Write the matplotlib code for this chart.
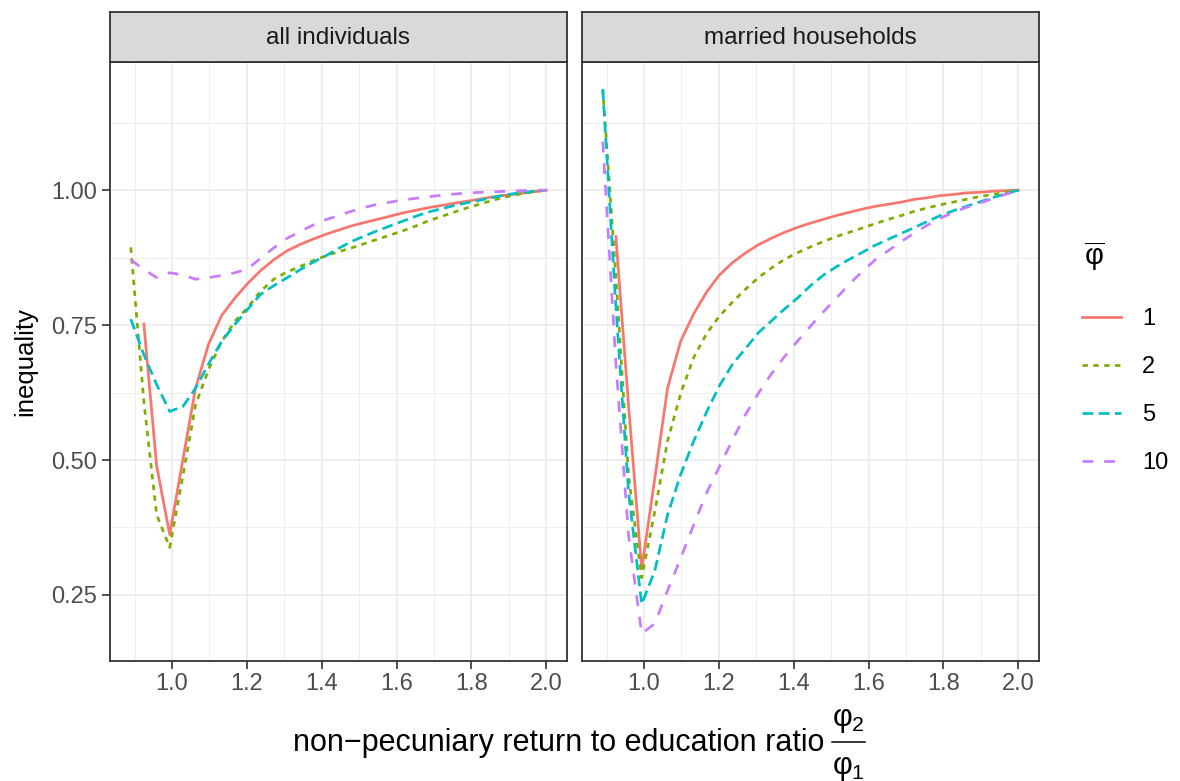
import matplotlib
matplotlib.use("Agg")
import matplotlib.pyplot as plt
from matplotlib.lines import Line2D
from matplotlib.ticker import FixedLocator

plt.rcParams['font.family'] = ['Liberation Sans', 'DejaVu Sans']
plt.rcParams['mathtext.fontset'] = 'custom'
plt.rcParams['mathtext.rm'] = 'Liberation Sans'
plt.rcParams['mathtext.it'] = 'Liberation Sans'
plt.rcParams['mathtext.bf'] = 'Liberation Sans:bold'

# phi2 / phi1 grid (red series starts one step later)
ratio = [0.890, 0.925, 0.959, 0.994, 1.029, 1.063, 1.098, 1.133, 1.168, 1.202,
         1.237, 1.272, 1.306, 1.341, 1.376, 1.410, 1.445, 1.480, 1.514, 1.549,
         1.584, 1.618, 1.653, 1.688, 1.723, 1.757, 1.792, 1.827, 1.861, 1.896,
         1.931, 1.965, 2.000]

panels = ['all individuals', 'married households']
phi_bar = ['1', '2', '5', '10']
x_ticks = [1.0, 1.2, 1.4, 1.6, 1.8, 2.0]
x_minor = [0.9, 1.1, 1.3, 1.5, 1.7, 1.9]
y_ticks = [0.25, 0.50, 0.75, 1.00]
y_minor = [0.125, 0.375, 0.625, 0.875, 1.125]

# all individuals
ind_1 = [None, 0.752, 0.490, 0.362, 0.500, 0.633, 0.715, 0.768, 0.800, 0.827,
         0.851, 0.871, 0.887, 0.899, 0.909, 0.918, 0.926, 0.934, 0.940, 0.946,
         0.952, 0.958, 0.963, 0.968, 0.972, 0.976, 0.980, 0.984, 0.988, 0.991,
         0.994, 0.997, 1.000]
ind_2 = [0.894, 0.608, 0.399, 0.338, 0.470, 0.602, 0.668, 0.720, 0.757, 0.782,
         0.813, 0.835, 0.848, 0.858, 0.869, 0.878, 0.886, 0.893, 0.901, 0.909,
         0.917, 0.925, 0.934, 0.944, 0.952, 0.960, 0.968, 0.975, 0.982, 0.988,
         0.993, 0.997, 1.000]
ind_5 = [0.761, 0.695, 0.640, 0.590, 0.599, 0.633, 0.678, 0.720, 0.751, 0.779,
         0.807, 0.823, 0.837, 0.852, 0.866, 0.878, 0.892, 0.905, 0.915, 0.925,
         0.934, 0.943, 0.952, 0.960, 0.966, 0.972, 0.977, 0.982, 0.987, 0.992,
         0.995, 0.998, 1.000]
ind_10 = [0.871, 0.853, 0.838, 0.847, 0.843, 0.835, 0.838, 0.842, 0.847, 0.854,
          0.874, 0.893, 0.910, 0.923, 0.935, 0.945, 0.953, 0.961, 0.968, 0.974,
          0.978, 0.982, 0.985, 0.988, 0.991, 0.993, 0.995, 0.996, 0.997, 0.998,
          0.999, 1.000, 1.000]

# married households
mar_1 = [None, 0.914, 0.600, 0.298, 0.466, 0.633, 0.720, 0.771, 0.812, 0.843,
         0.866, 0.884, 0.899, 0.911, 0.922, 0.931, 0.939, 0.946, 0.953, 0.959,
         0.965, 0.970, 0.974, 0.978, 0.983, 0.986, 0.990, 0.992, 0.995, 0.996,
         0.998, 0.999, 1.000]
mar_2 = [1.187, 0.840, 0.470, 0.282, 0.405, 0.535, 0.623, 0.690, 0.735, 0.767,
         0.793, 0.817, 0.838, 0.856, 0.872, 0.884, 0.895, 0.905, 0.914, 0.922,
         0.930, 0.938, 0.946, 0.953, 0.961, 0.967, 0.973, 0.978, 0.983, 0.988,
         0.992, 0.996, 1.000]
mar_5 = [1.187, 0.785, 0.440, 0.233, 0.295, 0.398, 0.473, 0.535, 0.590, 0.638,
         0.678, 0.707, 0.736, 0.758, 0.780, 0.800, 0.823, 0.843, 0.858, 0.872,
         0.885, 0.898, 0.909, 0.920, 0.931, 0.942, 0.953, 0.962, 0.970, 0.978,
         0.986, 0.993, 1.000]
mar_10 = [1.090, 0.680, 0.360, 0.178, 0.197, 0.258, 0.318, 0.380, 0.440, 0.488,
          0.538, 0.585, 0.624, 0.660, 0.692, 0.720, 0.748, 0.775, 0.800, 0.826,
          0.850, 0.871, 0.888, 0.905, 0.921, 0.935, 0.948, 0.959, 0.968, 0.976,
          0.984, 0.992, 1.000]

series = [[ind_1, ind_2, ind_5, ind_10], [mar_1, mar_2, mar_5, mar_10]]

colors = ['#F8766D', '#7CAE00', '#00BFC4', '#C77CFF']
styles = ['-', (0, (2, 2)), (0, (4, 2)), (0, (4, 4))]

fig = plt.figure(figsize=(11.8, 7.81), dpi=100)

W, H = 1180.0, 781.0
panel_left = [110, 582]
panel_w = 457
top, bottom = 62, 661
strip_top = 12

axes = []
for p, name in enumerate(panels):
    l = panel_left[p] / W
    ax = fig.add_axes([l, 1 - bottom / H, panel_w / W, (bottom - top) / H])
    axes.append(ax)
    for i, s in enumerate(series[p]):
        xs = [x for x, v in zip(ratio, s) if v is not None]
        ys = [v for v in s if v is not None]
        ax.plot(xs, ys, color=colors[i], linestyle=styles[i], linewidth=1.95,
                label=phi_bar[i], dash_capstyle='butt')
    ax.set_xlim(0.8345, 2.0555)
    ax.set_ylim(0.1276, 1.2375)
    ax.xaxis.set_major_locator(FixedLocator(x_ticks))
    ax.xaxis.set_minor_locator(FixedLocator(x_minor))
    ax.yaxis.set_major_locator(FixedLocator(y_ticks))
    ax.yaxis.set_minor_locator(FixedLocator(y_minor))
    ax.grid(True, which='major', color='#EBEBEB', linewidth=1.2)
    ax.grid(True, which='minor', color='#EBEBEB', linewidth=0.6)
    ax.set_axisbelow(True)
    for sp in ax.spines.values():
        sp.set_color('#333333')
        sp.set_linewidth(1.3)
    ax.tick_params(which='major', length=5.5, width=1.2, color='#333333',
                   labelsize=17, labelcolor='#4D4D4D', pad=3.5)
    ax.tick_params(which='minor', length=0)
    ax.set_xticklabels(['%.1f' % t for t in x_ticks])
    if p == 0:
        ax.set_yticklabels(['%.2f' % t for t in y_ticks])
    else:
        ax.tick_params(axis='y', labelleft=False, length=0)

    sax = fig.add_axes([l, 1 - top / H, panel_w / W, (top - strip_top) / H])
    sax.set_facecolor('#D9D9D9')
    sax.set_xticks([])
    sax.set_yticks([])
    for sp in sax.spines.values():
        sp.set_color('#333333')
        sp.set_linewidth(1.3)
    sax.text(0.5, 0.47, name, ha='center', va='center', fontsize=17.5,
             color='#1A1A1A', transform=sax.transAxes)

axes[0].set_ylabel('inequality', fontsize=18.5)
axes[0].yaxis.set_label_coords(-0.16, 0.5)

# x axis title with a stacked fraction phi2 / phi1
fig.text(824 / W, 1 - 751 / H, 'non\u2212pecuniary return to education ratio',
         ha='right', va='baseline', fontsize=22)
fig.text(848 / W, 1 - 720 / H, '$\\varphi_2$', ha='center', va='center', fontsize=22)
fig.text(848 / W, 1 - 768 / H, '$\\varphi_1$', ha='center', va='center', fontsize=22)
fig.add_artist(Line2D([832 / W, 865 / W], [1 - 742 / H, 1 - 742 / H],
                      transform=fig.transFigure, color='black', linewidth=1.1))

# legend: title drawn on its own, entries below it
fig.text(1094 / W, 1 - 256 / H, '$\\overline{\\varphi}$', ha='center', va='center',
         fontsize=21)
handles, labels = axes[0].get_legend_handles_labels()
leg = fig.legend(handles, labels, loc='upper left',
                 bbox_to_anchor=(1082 / W, 1 - 308 / H),
                 frameon=False, fontsize=17,
                 handlelength=1.65, labelspacing=1.1, handletextpad=0.9,
                 borderaxespad=0, borderpad=0)

fig.savefig('out.png', dpi=100)
